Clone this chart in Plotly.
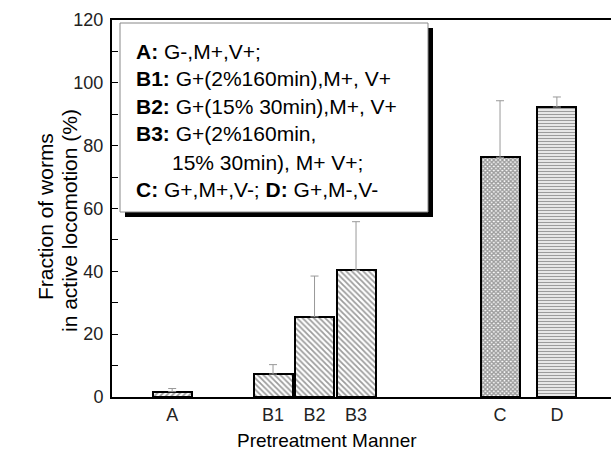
import plotly.graph_objects as go

# ---- data ----
categories = ["A", "B1", "B2", "B3", "C", "D"]
values = [1.7, 7.3, 25.5, 40.3, 76.3, 92.3]
err_up = [1.0, 3.0, 13.0, 15.5, 18.0, 3.2]
patterns = ["/", "\\", "\\", "\\", "x", "-"]

legend_lines = [
    "<b>A:</b> G-,M+,V+;",
    "<b>B1:</b> G+(2%160min),M+, V+",
    "<b>B2:</b> G+(15% 30min),M+, V+",
    "<b>B3:</b> G+(2%160min,",
    "15% 30min), M+ V+;",
    "<b>C:</b> G+,M+,V-; <b>D:</b> G+,M-,V-",
]

# ---- layout constants (pixel geometry) ----
W, H = 611, 458
L, R, T, B = 112, 0, 20, 61
PW, PH = W - L - R, H - T - B
UNIT = 41.5  # px per x unit
xpos = [1.45, 3.88, 4.88, 5.88, 9.35, 10.72]
FONT = "Liberation Sans, Arial, sans-serif"
pat_size = {"/": 4, "\\": 4, "x": 3, "-": 3}
pat_solid = {"/": 0.45, "\\": 0.45, "x": 0.7, "-": 0.5}


def px_x(p):
    return (p - L) / PW


def px_y(p):
    return (H - B - p) / PH


fig = go.Figure()
for i, cat in enumerate(categories):
    shp = patterns[i]
    fig.add_trace(go.Bar(
        x=[xpos[i]], y=[values[i]], width=0.94, name=cat,
        marker=dict(color="white",
                    line=dict(color="black", width=2),
                    pattern=dict(shape=shp, fgcolor="#3a3a3a",
                                 bgcolor="white", size=pat_size[shp],
                                 solidity=pat_solid[shp])),
        error_y=dict(type="data", symmetric=False, array=[err_up[i]],
                     arrayminus=[0], color="#999", thickness=1, width=4),
        showlegend=False,
    ))

shapes = [
    # legend shadow
    dict(type="rect", xref="paper", yref="paper",
         x0=px_x(125), x1=px_x(433), y0=px_y(217), y1=px_y(28),
         fillcolor="black", line=dict(width=0), layer="above"),
    dict(type="rect", xref="paper", yref="paper",
         x0=px_x(120), x1=px_x(428), y0=px_y(212), y1=px_y(23),
         fillcolor="white", line=dict(color="#888", width=1), layer="above"),
]

annotations = []
line_y = [51, 78.5, 106.5, 133.5, 162, 190]
line_x = [134, 134, 134, 134, 170, 134]
for txt, yy, xx in zip(legend_lines, line_y, line_x):
    annotations.append(dict(text=txt, xref="paper", yref="paper",
                            x=px_x(xx), y=px_y(yy), xanchor="left", yanchor="middle",
                            showarrow=False, font=dict(size=21, color="black", family=FONT)))

annotations.append(dict(text="Fraction of worms", xref="paper", yref="paper",
                        x=px_x(45), y=px_y(217), textangle=-90, showarrow=False,
                        xanchor="center", yanchor="middle",
                        font=dict(size=21, color="black", family=FONT)))
annotations.append(dict(text="in active locomotion (%)", xref="paper", yref="paper",
                        x=px_x(69), y=px_y(221), textangle=-90, showarrow=False,
                        xanchor="center", yanchor="middle",
                        font=dict(size=21, color="black", family=FONT)))
annotations.append(dict(text="Pretreatment Manner", xref="paper", yref="paper",
                        x=px_x(327), y=px_y(441), showarrow=False,
                        xanchor="center", yanchor="middle",
                        font=dict(size=19, color="black", family=FONT)))

fig.update_layout(
    width=W, height=H,
    margin=dict(l=L, r=R, t=T, b=B, pad=0),
    paper_bgcolor="white", plot_bgcolor="white",
    shapes=shapes, annotations=annotations,
    bargap=0,
    font=dict(family=FONT, color="black"),
)
fig.update_xaxes(range=[0, PW / UNIT], tickvals=xpos, ticktext=categories,
                 showline=True, linecolor="black", linewidth=2, mirror=True,
                 ticks="", showgrid=False, zeroline=False,
                 tickfont=dict(size=18, color="#222"))
fig.update_yaxes(range=[0, 120], dtick=20, showline=True, linecolor="black",
                 linewidth=2, ticks="inside", ticklen=6, tickwidth=1,
                 tickcolor="black",
                 minor=dict(dtick=10, ticks="inside", ticklen=6, tickcolor="black"),
                 showgrid=False, zeroline=False, ticklabelstandoff=3,
                 tickfont=dict(size=18, color="#222"))

fig.write_html("out.html")
